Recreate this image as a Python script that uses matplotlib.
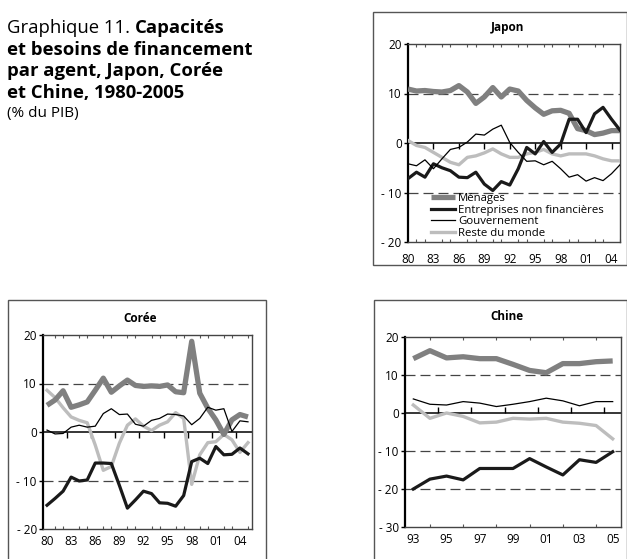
import matplotlib
matplotlib.use('Agg')
import matplotlib.pyplot as plt
from matplotlib.patches import Rectangle
from matplotlib.ticker import FixedLocator, FuncFormatter, MultipleLocator

W, H = 627, 559
plt.rcParams['font.family'] = ['Open Sans', 'DejaVu Sans']

# ---------------- data ----------------
labels = ['Ménages', 'Entreprises non financières', 'Gouvernement', 'Reste du monde']

years_jp = list(range(1980, 2006))
jp_menages = [10.9, 10.5, 10.6, 10.4, 10.3, 10.6, 11.6, 10.3, 8.0, 9.3, 11.2, 9.3, 10.9,
              10.5, 8.6, 7.1, 5.8, 6.5, 6.6, 6.0, 2.9, 2.5, 1.7, 2.0, 2.5, 2.5]
jp_entreprises = [-7.2, -5.9, -6.9, -4.2, -5.0, -5.6, -6.9, -7.0, -5.9, -8.3, -9.6, -7.8, -8.5,
                  -5.2, -0.9, -2.2, 0.3, -1.9, -0.2, 4.8, 4.8, 2.1, 5.9, 7.2, 4.8, 2.6]
jp_gouvernement = [-4.2, -4.6, -3.4, -5.2, -3.2, -1.3, -0.9, 0.2, 1.8, 1.6, 2.8, 3.6, 0.1,
                   -1.9, -3.7, -3.6, -4.4, -3.7, -5.2, -6.9, -6.4, -7.7, -7.0, -7.6, -6.2, -4.4]
jp_reste = [0.5, -0.5, -0.9, -1.9, -2.9, -3.9, -4.4, -2.9, -2.6, -2.0, -1.2, -2.2, -2.9,
            -2.9, -2.2, -1.9, -1.3, -2.2, -2.6, -2.2, -2.2, -2.2, -2.6, -3.2, -3.6, -3.6]

years_kr = list(range(1980, 2006))
kr_menages = [5.5, 6.6, 8.5, 5.1, 5.6, 6.2, 8.6, 11.1, 8.2, 9.5, 10.7, 9.6, 9.4,
              9.5, 9.4, 9.7, 8.3, 8.1, 18.7, 8.0, 4.9, 2.5, -0.5, 2.5, 3.6, 3.1]
kr_entreprises = [-15.1, -13.7, -12.2, -9.3, -10.1, -9.9, -6.4, -6.4, -6.5, -11.0, -15.7, -14.0, -12.2,
                  -12.7, -14.6, -14.7, -15.3, -13.1, -6.1, -5.4, -6.5, -3.0, -4.7, -4.6, -3.3, -4.5]
kr_gouvernement = [0.4, -0.4, -0.3, 1.0, 1.4, 1.0, 1.2, 3.8, 4.8, 3.6, 3.7, 1.6, 1.2,
                   2.4, 2.8, 3.7, 3.6, 3.3, 1.5, 2.8, 5.1, 4.5, 4.8, 0.1, 2.3, 2.1]
kr_reste = [8.6, 7.1, 5.0, 3.1, 2.4, 1.9, -2.7, -7.9, -7.1, -2.3, 1.4, 2.7, 1.2,
            0.3, 1.4, 2.1, 4.0, 2.8, -10.8, -4.7, -2.2, -2.0, -0.5, -1.6, -4.2, -2.2]

years_cn = list(range(1993, 2006))
cn_menages = [14.3, 16.4, 14.5, 14.8, 14.3, 14.3, 12.8, 11.2, 10.6, 13.0, 13.0, 13.5, 13.7]
cn_entreprises = [-20.0, -17.4, -16.6, -17.6, -14.6, -14.6, -14.6, -12.0, -14.2, -16.3, -12.3, -13.0, -10.2]
cn_gouvernement = [3.7, 2.3, 2.1, 3.0, 2.6, 1.7, 2.3, 3.0, 3.9, 3.2, 1.9, 3.0, 3.0]
cn_reste = [2.1, -1.4, 0.0, -0.9, -2.6, -2.4, -1.4, -1.6, -1.4, -2.4, -2.7, -3.3, -6.8]

# ---------------- styles ----------------
styles = [dict(color='#808080', lw=3.8, solid_capstyle='butt', zorder=4),
          dict(color='#1a1a1a', lw=2.3, zorder=5),
          dict(color='#000000', lw=0.9, zorder=6),
          dict(color='#bdbdbd', lw=2.4, zorder=3)]

fig = plt.figure(figsize=(W / 100, H / 100), dpi=100)


def fx(x):
    return x / W


def fy(y):
    return 1 - y / H


def box(x0, y0, x1, y1):
    fig.add_artist(Rectangle((fx(x0), fy(y1)), fx(x1) - fx(x0), fy(y0) - fy(y1),
                             transform=fig.transFigure, fill=False,
                             edgecolor='#555555', lw=1.0))


def px_axes(l, t, r, b):
    return fig.add_axes([fx(l), fy(b), (r - l) / W, (b - t) / H])


def yfmt(v, pos):
    v = int(round(v))
    return f"- {abs(v)}" if v < 0 else f"{v}"


def panel(ax, years, series, xlim, ylim, yticks, xticks, grid_levels,
          zero_ticks, zero_marker, xpad):
    for s, st, lab in zip(series, styles, labels):
        ax.plot(years, s, label=lab, **st)
    ax.set_xlim(*xlim)
    ax.set_ylim(*ylim)
    ax.axhline(0, color='black', lw=1.1, zorder=2)
    for g in grid_levels:
        ax.axhline(g, color='#444444', lw=0.9, dashes=(8, 4), zorder=1)
    ax.plot(zero_ticks, [0] * len(zero_ticks), linestyle='none',
            marker=zero_marker, markersize=4, color='black', mew=1.0, zorder=2)
    ax.yaxis.set_major_locator(FixedLocator(yticks))
    ax.yaxis.set_major_formatter(FuncFormatter(yfmt))
    ax.xaxis.set_major_locator(FixedLocator(xticks))
    ax.xaxis.set_major_formatter(FuncFormatter(lambda v, p: f"{int(round(v)) % 100:02d}"))
    ax.xaxis.set_minor_locator(MultipleLocator(1))
    ax.tick_params(axis='x', which='major', length=0, pad=xpad, labelsize=8.5)
    ax.tick_params(axis='x', which='minor', top=True, bottom=True, direction='in',
                   length=2, color='#555555', width=0.8)
    ax.tick_params(axis='y', which='major', length=3, width=1.0, pad=1.5, labelsize=8.5)
    ax.spines['left'].set_linewidth(1.6)
    ax.spines['left'].set_color('black')
    for sp in ('top', 'bottom', 'right'):
        ax.spines[sp].set_color('#444444')
        ax.spines[sp].set_linewidth(1.0)
    ax.set_facecolor('white')


# ---------------- title ----------------
TS = 13.3
t1 = fig.text(fx(7), fy(33), "Graphique 11. ", fontsize=TS, va='baseline', ha='left')
fig.add_artist(plt.Annotation("Capacités", xy=(1, 0), xycoords=t1,
                              fontsize=TS, fontweight='bold', va='bottom', ha='left'))
for txt, yb in [("et besoins de financement", 55), ("par agent, Japon, Corée", 76),
                ("et Chine, 1980-2005", 98)]:
    fig.text(fx(7), fy(yb), txt, fontsize=TS, fontweight='bold', va='baseline', ha='left')
fig.text(fx(7), fy(117), "(% du PIB)", fontsize=11, va='baseline', ha='left')

# ---------------- boxes ----------------
box(373, 12, 626.5, 265)
box(8, 300, 266, 570)
box(374, 300, 626.5, 570)

# ---------------- Japon ----------------
ax_jp = px_axes(408, 44, 620, 242)
panel(ax_jp, years_jp, [jp_menages, jp_entreprises, jp_gouvernement, jp_reste],
      (1980, 2005), (-20, 20), [-20, -10, 0, 10, 20], list(range(1980, 2005, 3)),
      [10, -10], list(range(1983, 2005, 3)), 3, 8)
fig.text(fx(507), fy(28), "Japon", fontsize=8.5, fontweight='bold', ha='center', va='center')
ax_jp.legend(loc='upper left', bbox_to_anchor=(fx(431), fy(193)),
             bbox_transform=fig.transFigure, frameon=False, fontsize=8.2,
             handlelength=2.1, handletextpad=0.3, labelspacing=0.05, borderpad=0,
             borderaxespad=0)

# ---------------- Corée ----------------
ax_kr = px_axes(43, 335, 252, 529)
panel(ax_kr, years_kr, [kr_menages, kr_entreprises, kr_gouvernement, kr_reste],
      (1979.5, 2005.5), (-20, 20), [-20, -10, 0, 10, 20], list(range(1980, 2005, 3)),
      [10, -10], [1979.5 + 3 * k for k in range(1, 9)], 3, 4)
fig.text(fx(140), fy(318), "Corée", fontsize=8.5, fontweight='bold', ha='center', va='center')

# ---------------- Chine ----------------
ax_cn = px_axes(405, 337, 621, 527)
panel(ax_cn, years_cn, [cn_menages, cn_entreprises, cn_gouvernement, cn_reste],
      (1992.5, 2005.5), (-30, 20), [-30, -20, -10, 0, 10, 20], list(range(1993, 2006, 2)),
      [10, -10, -20], [1994.5 + 2 * k for k in range(6)], 2, 4)
fig.text(fx(507), fy(317), "Chine", fontsize=8.5, fontweight='bold', ha='center', va='center')

fig.savefig('out.png', dpi=100, facecolor='white')
